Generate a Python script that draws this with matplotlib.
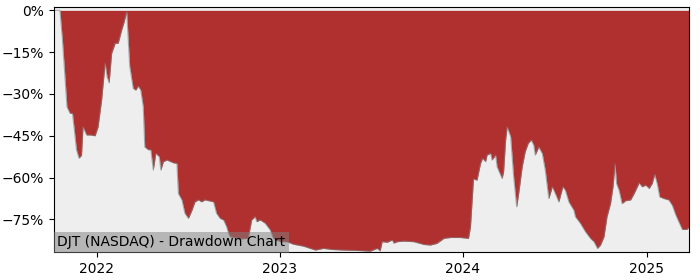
import pandas as pd
import matplotlib.pyplot as plt
import matplotlib.dates as mdates
from matplotlib.ticker import PercentFormatter

# Drawdown values (percent below running peak)
fechas = [
    '2021-10-08', '2021-10-20', '2021-10-25', '2021-10-30', '2021-11-03', '2021-11-09',
    '2021-11-14', '2021-11-17', '2021-11-22', '2021-11-27', '2021-12-02', '2021-12-05',
    '2021-12-12', '2021-12-19', '2021-12-29', '2022-01-04', '2022-01-11', '2022-01-18',
    '2022-01-22', '2022-01-26', '2022-01-31', '2022-02-07', '2022-02-13', '2022-02-20',
    '2022-02-24', '2022-03-02', '2022-03-08', '2022-03-15', '2022-03-20', '2022-03-25',
    '2022-03-30', '2022-04-04', '2022-04-07', '2022-04-14', '2022-04-19', '2022-04-24',
    '2022-04-29', '2022-05-06', '2022-05-09', '2022-05-14', '2022-05-21', '2022-06-03',
    '2022-06-10', '2022-06-13', '2022-06-20', '2022-06-26', '2022-07-03', '2022-07-10',
    '2022-07-16', '2022-07-23', '2022-07-29', '2022-08-05', '2022-08-22', '2022-08-28',
    '2022-09-04', '2022-09-11', '2022-09-17', '2022-09-21', '2022-09-24', '2022-10-14',
    '2022-10-30', '2022-11-06', '2022-11-13', '2022-11-16', '2022-11-23', '2022-12-03',
    '2022-12-13', '2022-12-19', '2023-01-02', '2023-01-15', '2023-01-28', '2023-02-17',
    '2023-03-13', '2023-03-29', '2023-04-15', '2023-05-08', '2023-06-10', '2023-06-30',
    '2023-07-14', '2023-07-20', '2023-07-24', '2023-08-03', '2023-08-13', '2023-08-16',
    '2023-08-23', '2023-09-05', '2023-09-25', '2023-10-15', '2023-10-28', '2023-11-10',
    '2023-11-24', '2023-12-07', '2023-12-27', '2024-01-12', '2024-01-16', '2024-01-22',
    '2024-01-29', '2024-02-05', '2024-02-09', '2024-02-15', '2024-02-18', '2024-02-25',
    '2024-02-28', '2024-03-06', '2024-03-09', '2024-03-16', '2024-03-19', '2024-03-22',
    '2024-03-26', '2024-03-29', '2024-04-05', '2024-04-11', '2024-04-17', '2024-04-21',
    '2024-04-28', '2024-05-04', '2024-05-10', '2024-05-16', '2024-05-21', '2024-05-24',
    '2024-05-31', '2024-06-07', '2024-06-13', '2024-06-20', '2024-06-27', '2024-07-03',
    '2024-07-10', '2024-07-18', '2024-07-23', '2024-07-30', '2024-08-09', '2024-08-12',
    '2024-08-22', '2024-09-01', '2024-09-11', '2024-09-18', '2024-09-25', '2024-10-01',
    '2024-10-08', '2024-10-14', '2024-10-21', '2024-10-26', '2024-10-30', '2024-11-02',
    '2024-11-07', '2024-11-13', '2024-11-20', '2024-11-30', '2024-12-07', '2024-12-17',
    '2024-12-23', '2024-12-30', '2025-01-06', '2025-01-12', '2025-01-17', '2025-01-22',
    '2025-01-27', '2025-02-04', '2025-02-14', '2025-02-21', '2025-02-28', '2025-03-06',
    '2025-03-13', '2025-03-22', '2025-03-26',
]
drawdown_pct = [
    0, 0, -10.7, -23.8, -34.6, -36.9,
    -37.0, -41.8, -50.0, -53.0, -52.0, -41.8,
    -44.7, -44.7, -45.0, -41.8, -32.2, -19.0,
    -23.8, -26.0, -15.4, -11.8, -11.8, -7.0,
    -4.7, -0.5, -20.0, -28.0, -28.6, -27.2,
    -28.6, -34.6, -49.0, -50.0, -50.0, -57.3,
    -51.3, -52.5, -57.3, -54.3, -53.7, -54.7,
    -54.9, -65.7, -68.0, -72.8, -74.6, -71.7,
    -68.7, -68.0, -68.7, -68.0, -68.7, -72.8,
    -74.6, -75.2, -77.6, -80.0, -81.2, -82.0,
    -81.8, -75.2, -74.0, -75.8, -75.2, -76.4,
    -78.8, -81.8, -83.0, -83.0, -83.9, -84.6,
    -86.0, -85.4, -85.8, -86.0, -86.2, -86.4,
    -85.4, -86.3, -83.0, -83.2, -82.4, -83.5,
    -83.0, -82.8, -83.0, -84.0, -84.2, -83.6,
    -81.8, -81.5, -81.5, -81.8, -77.6, -60.5,
    -60.9, -54.9, -53.1, -54.3, -51.9, -51.3,
    -53.7, -51.9, -56.1, -59.1, -60.3, -57.9,
    -46.5, -41.8, -45.3, -59.7, -70.5, -65.7,
    -56.1, -50.7, -47.7, -46.5, -48.3, -51.9,
    -49.0, -51.3, -57.3, -67.5, -63.3, -65.7,
    -68.7, -63.3, -64.5, -68.7, -71.7, -74.0,
    -76.4, -79.4, -81.8, -83.0, -85.4, -84.2,
    -81.2, -74.0, -69.3, -63.3, -55.1, -62.1,
    -64.5, -69.3, -68.3, -68.0, -65.7, -61.9,
    -63.3, -62.7, -63.9, -62.1, -58.9, -62.1,
    -66.9, -67.5, -68.0, -69.9, -73.4, -75.8,
    -78.6, -78.6, -77.9,
]

x = pd.to_datetime(fechas)
dd = pd.Series(drawdown_pct, index=x) / 100.0

fig = plt.figure(figsize=(7, 2.8), dpi=100)
ax = fig.add_axes([0.077, 0.1, 0.907, 0.875])
ax.set_facecolor('#eeeeee')

ax.fill_between(dd.index, 0, dd.values, color='#b03030', linewidth=0)
ax.plot(dd.index, dd.values, color='gray', linewidth=0.8, alpha=0.6)

ax.set_xlim(dd.index[0], dd.index[-1])
ax.set_ylim(-0.867, 0.012)
ax.set_yticks([0, -0.15, -0.30, -0.45, -0.60, -0.75])
ax.yaxis.set_major_formatter(PercentFormatter(1.0, decimals=0))
ax.xaxis.set_major_locator(mdates.YearLocator())
ax.xaxis.set_major_formatter(mdates.DateFormatter('%Y'))
ax.tick_params(labelsize=10)

ax.text(0.005, 0.012, 'DJT (NASDAQ) - Drawdown Chart', transform=ax.transAxes,
        fontsize=10, ha='left', va='bottom',
        bbox=dict(facecolor='gray', alpha=0.5, edgecolor='none', boxstyle='square,pad=0.25'))

plt.savefig('out.png', dpi=100)
